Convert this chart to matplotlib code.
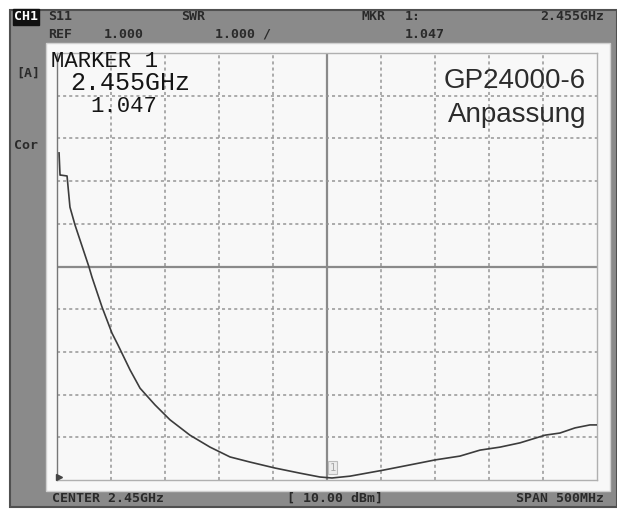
import numpy as np
import matplotlib
matplotlib.use("Agg")
import matplotlib.pyplot as plt
from matplotlib.patches import Rectangle

# sweep: 2.2 .. 2.7 GHz, SWR trace
freq_mhz = [2201.9, 2202.8, 2203.7, 2209.3, 2212.0, 2216.7, 2229.6, 2232.4, 2241.7,
            2250.9, 2256.5, 2267.6, 2276.9, 2290.7, 2304.6, 2323.1, 2341.7, 2360.2,
            2378.7, 2401.9, 2425.0, 2443.5, 2454.6, 2471.3, 2501.9, 2536.1, 2550.0,
            2573.1, 2591.7, 2610.2, 2628.7, 2651.9, 2665.7, 2679.6, 2693.5, 2700.0]
swr = [8.66, 8.14, 8.14, 8.12, 7.39, 6.97, 5.99, 5.75, 5.05,
       4.44, 4.16, 3.58, 3.15, 2.76, 2.41, 2.05, 1.77, 1.54,
       1.42, 1.28, 1.16, 1.07, 1.047, 1.09, 1.23, 1.40, 1.47,
       1.56, 1.70, 1.77, 1.87, 2.05, 2.10, 2.22, 2.29, 2.29]

center_mhz = 2450
span_mhz = 500
ref_swr = 1.0
swr_per_div = 1.0
marker_mhz = 2455
marker_swr = 1.047

W, H = 617, 509
fig = plt.figure(figsize=(W / 100, H / 100), dpi=100, facecolor="white")


def fx(x):
    return x / W


def fy(y):
    return 1 - y / H


# instrument frame and screen
fig.patches.append(Rectangle((fx(10), fy(507)), fx(607), (497) / H, transform=fig.transFigure,
                             facecolor="#8a8a8a", edgecolor="#505050", lw=1.5, zorder=-3))
fig.patches.append(Rectangle((fx(46), fy(491)), fx(564), 448 / H, transform=fig.transFigure,
                             facecolor="#f8f8f8", edgecolor="#d0d0d0", lw=1.0, zorder=-2))

ax = fig.add_axes([fx(57), fy(480), fx(540), 427 / H])
ax.set_facecolor("#f8f8f8")
f0 = center_mhz - span_mhz / 2
f1 = center_mhz + span_mhz / 2
ax.set_xlim(f0, f1)
ax.set_ylim(ref_swr, ref_swr + 10 * swr_per_div)

for f in np.linspace(f0, f1, 11)[1:-1]:
    if f == center_mhz:
        ax.axvline(f, color="#8a8a8a", lw=1.6, zorder=1)
    else:
        ax.axvline(f, color="#959595", lw=1.1, ls=(0, (2, 2)), zorder=1)
for s in np.linspace(ref_swr, ref_swr + 10 * swr_per_div, 11)[1:-1]:
    if s == ref_swr + 5 * swr_per_div:
        ax.axhline(s, color="#8a8a8a", lw=1.6, zorder=1)
    else:
        ax.axhline(s, color="#959595", lw=1.1, ls=(0, (2, 2)), zorder=1)

for sp in ax.spines.values():
    sp.set_color("#b0b0b0")
    sp.set_linewidth(1.0)
ax.spines["left"].set_color("#777777")
ax.set_xticks([])
ax.set_yticks([])

ax.plot(freq_mhz, swr, color="#3c3c3c", lw=1.2, zorder=3)

# reference level pointer and marker flag
ax.plot([f0 + 1.5], [ref_swr + 0.08], marker=">", ms=5, color="#444444", clip_on=False, zorder=4)
ax.text(marker_mhz, marker_swr + 0.12, "1", fontsize=7.5, color="#a8a8a8", ha="center", va="bottom",
        family="DejaVu Sans Mono",
        bbox=dict(boxstyle="square,pad=0.15", fc="#ececec", ec="#bbbbbb", lw=0.8), zorder=4)

# header / footer text of the analyzer
hdr = dict(family="DejaVu Sans Mono", fontweight="bold", fontsize=9.5, color="#2a2a2a")
fig.text(fx(14), fy(17), "CH1", va="center", ha="left", color="white",
         bbox=dict(boxstyle="square,pad=0.1", fc="#111111", ec="#111111"),
         family="DejaVu Sans Mono", fontweight="bold", fontsize=9.5)
fig.text(fx(48), fy(17), "S11", va="center", **hdr)
fig.text(fx(181), fy(17), "SWR", va="center", **hdr)
fig.text(fx(362), fy(17), "MKR", va="center", **hdr)
fig.text(fx(405), fy(17), "1:", va="center", **hdr)
fig.text(fx(604), fy(17), "2.455GHz", va="center", ha="right", **hdr)
fig.text(fx(48), fy(34), "REF", va="center", **hdr)
fig.text(fx(104), fy(34), "1.000", va="center", **hdr)
fig.text(fx(215), fy(34), "1.000 /", va="center", **hdr)
fig.text(fx(405), fy(34), "1.047", va="center", **hdr)
fig.text(fx(16), fy(73), "[A]", va="center", **hdr)
fig.text(fx(14), fy(145), "Cor", va="center", **hdr)
fig.text(fx(52), fy(498), "CENTER 2.45GHz", va="center", **hdr)
fig.text(fx(287), fy(498), "[ 10.00 dBm]", va="center", **hdr)
fig.text(fx(604), fy(498), "SPAN 500MHz", va="center", ha="right", **hdr)

# marker readout
mk = dict(family="Liberation Mono", color="#151515")
fig.text(fx(51), fy(67), "MARKER 1", fontsize=16, va="baseline", **mk)
fig.text(fx(70), fy(90), "2.455GHz", fontsize=18, va="baseline", **mk)
fig.text(fx(90), fy(112), "1.047", fontsize=16, va="baseline", **mk)

# annotation
fig.text(fx(586), fy(88), "GP24000-6", fontsize=20, ha="right", va="baseline",
         family="Liberation Sans", color="#2c2c2c")
fig.text(fx(586), fy(122), "Anpassung", fontsize=20, ha="right", va="baseline",
         family="Liberation Sans", color="#2c2c2c")

fig.savefig("out.png", dpi=100, facecolor="white")
